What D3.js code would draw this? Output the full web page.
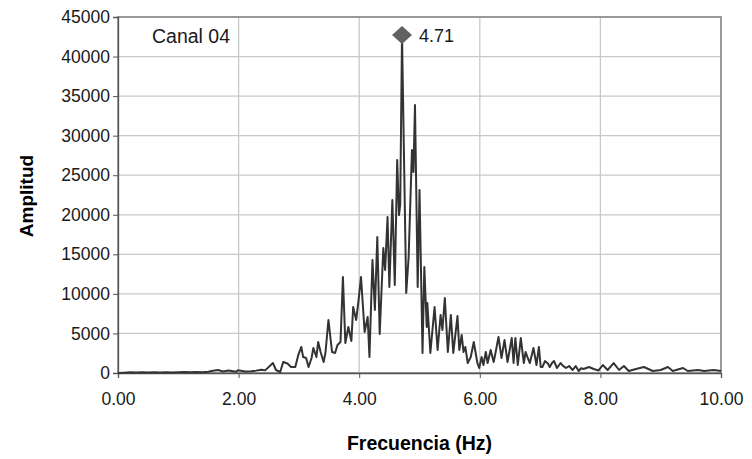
<!DOCTYPE html>
<html>
<head>
<meta charset="utf-8">
<script src="https://cdn.jsdelivr.net/npm/d3@7"></script>
<style>
  body { margin: 0; background: #fff; }
  svg text { font-family: "Liberation Sans", Arial, sans-serif; }
</style>
</head>
<body>
<svg id="chart" width="752" height="459"></svg>
<script>
// frequency (Hz) and amplitude
const freq = [
  0.00, 0.10, 0.20, 0.30, 0.40, 0.50, 0.60, 0.70, 0.80, 0.90,
  1.00, 1.10, 1.20, 1.30, 1.40, 1.50, 1.55, 1.66, 1.74, 1.83,
  1.96, 1.99, 2.11, 2.21, 2.29, 2.38, 2.44, 2.57, 2.62, 2.69,
  2.74, 2.81, 2.87, 2.94, 2.99, 3.04, 3.07, 3.12, 3.16, 3.21,
  3.24, 3.29, 3.32, 3.36, 3.41, 3.44, 3.49, 3.55, 3.60, 3.64,
  3.69, 3.73, 3.77, 3.82, 3.87, 3.90, 3.95, 3.99, 4.03, 4.09,
  4.14, 4.17, 4.22, 4.26, 4.30, 4.34, 4.40, 4.43, 4.47, 4.50,
  4.55, 4.59, 4.63, 4.66, 4.68, 4.71, 4.78, 4.82, 4.875, 4.90,
  4.925, 4.97, 5.00, 5.05, 5.08, 5.12, 5.13, 5.18, 5.25, 5.30,
  5.35, 5.38, 5.42, 5.47, 5.52, 5.56, 5.63, 5.66, 5.70, 5.73,
  5.76, 5.80, 5.85, 5.90, 5.96, 5.99, 6.03, 6.06, 6.10, 6.13,
  6.18, 6.23, 6.26, 6.31, 6.36, 6.41, 6.46, 6.53, 6.56, 6.59,
  6.63, 6.68, 6.73, 6.76, 6.79, 6.83, 6.89, 6.94, 6.98, 7.01,
  7.04, 7.08, 7.13, 7.16, 7.20, 7.23, 7.28, 7.34, 7.38, 7.43,
  7.48, 7.54, 7.59, 7.64, 7.68, 7.72, 7.81, 7.89, 7.97, 8.04,
  8.12, 8.22, 8.31, 8.39, 8.47, 8.59, 8.72, 8.87, 9.00, 9.12,
  9.20, 9.37, 9.45, 9.62, 9.72, 9.88, 10.00
];
const amplitude = [
  0, 40, 80, 50, 90, 60, 100, 70, 110, 60,
  90, 120, 80, 130, 100, 160, 260, 380, 200, 320,
  150, 350, 200, 220, 300, 420, 330, 1260, 380, 130,
  1390, 1200, 760, 760, 2280, 3290, 2020, 1900, 760, 1900,
  3160, 2020, 3920, 2650, 1390, 2530, 6700, 2650, 2530, 3540,
  3920, 12130, 3790, 5810, 4040, 8340, 6700, 9230, 12130, 5180,
  7080, 2020, 14280, 7960, 17190, 4930, 15800, 13020, 19720, 10870,
  21870, 11120, 26920, 19970, 21240, 42600, 10110, 14660, 28190, 25400,
  33880, 10870, 23130, 2530, 13400, 5810, 8850, 2530, 8340, 2910,
  7330, 5440, 9480, 2650, 7330, 2530, 7200, 2910, 4800, 2650,
  3290, 1260, 2020, 3920, 1260, 630, 2020, 1010, 2650, 1260,
  2910, 1390, 2530, 4550, 1900, 4170, 1390, 4420, 1260, 4420,
  1010, 4420, 1260, 2650, 2020, 1260, 3160, 1010, 3290, 760,
  760, 1500, 1200, 760, 1300, 1520, 630, 1260, 900, 630,
  880, 380, 880, 250, 600, 500, 760, 500, 320, 1010,
  380, 1260, 380, 880, 250, 500, 760, 250, 380, 760,
  250, 630, 250, 380, 250, 380, 250
];
const xTicks = [0, 2, 4, 6, 8, 10];
const yTicks = [0, 5000, 10000, 15000, 20000, 25000, 30000, 35000, 40000, 45000];
const peakFreq = 4.71;
const peakAmp = 42600;
const channelName = "Canal 04";

const svg = d3.select('#chart');
const m = { left: 118, right: 31, top: 17, bottom: 86 };
const W = 752, H = 459;

const x = d3.scaleLinear().domain([0, 10]).range([m.left, W - m.right]);
const y = d3.scaleLinear().domain([0, 45000]).range([H - m.bottom, m.top]);

// grid
svg.append('g').selectAll('line.gy')
  .data(yTicks.slice(1)).enter().append('line')
    .attr('x1', x(0)).attr('x2', x(10))
    .attr('y1', d => y(d)).attr('y2', d => y(d))
    .attr('stroke', '#c8c8c8').attr('stroke-width', 1.3);
svg.append('g').selectAll('line.gx')
  .data(xTicks.slice(1)).enter().append('line')
    .attr('x1', d => x(d)).attr('x2', d => x(d))
    .attr('y1', y(0)).attr('y2', y(45000))
    .attr('stroke', '#c8c8c8').attr('stroke-width', 1.3);

// plot frame
svg.append('rect')
  .attr('x', x(0)).attr('y', y(45000))
  .attr('width', x(10) - x(0)).attr('height', y(0) - y(45000))
  .attr('fill', 'none').attr('stroke', '#8a8a8a').attr('stroke-width', 1.6);

// axes
const xAxis = svg.append('g')
  .attr('transform', `translate(0,${y(0)})`)
  .call(d3.axisBottom(x).tickValues(xTicks).tickFormat(d3.format('.2f')).tickSize(5).tickPadding(15));
const yAxis = svg.append('g')
  .attr('transform', `translate(${x(0)},0)`)
  .call(d3.axisLeft(y).tickValues(yTicks).tickFormat(d => d).tickSize(5).tickPadding(3));
[xAxis, yAxis].forEach(a => {
  a.select('.domain').attr('stroke', '#555').attr('stroke-width', 1.3);
  a.selectAll('.tick line').attr('stroke', '#555');
  a.selectAll('.tick text').attr('fill', '#1a1a1a').style('font-size', '17.5px')
    .style('font-family', '"Liberation Sans", Arial, sans-serif');
});

// spectrum line
const pts = freq.map((f, i) => [f, amplitude[i]]);
svg.append('path')
  .datum(pts)
  .attr('fill', 'none')
  .attr('stroke', '#333')
  .attr('stroke-width', 2)
  .attr('stroke-linejoin', 'round')
  .attr('d', d3.line().x(d => x(d[0])).y(d => y(d[1])));

// peak marker (diamond)
svg.append('path')
  .attr('d', 'M0,-9L10,0L0,9L-10,0Z')
  .attr('transform', `translate(${x(peakFreq)},${y(peakAmp) - 1})`)
  .attr('fill', '#616161');
svg.append('text')
  .attr('x', x(peakFreq) + 17).attr('y', y(peakAmp) + 6)
  .attr('font-size', 18).attr('fill', '#1a1a1a')
  .text(peakFreq.toFixed(2));

svg.append('text')
  .attr('x', 152).attr('y', 43)
  .attr('font-size', 19.5).attr('fill', '#1a1a1a')
  .text(channelName);

// axis titles
svg.append('text')
  .attr('x', (x(0) + x(10)) / 2).attr('y', 450)
  .attr('text-anchor', 'middle')
  .attr('font-size', 19.5).attr('font-weight', 'bold')
  .text('Frecuencia (Hz)');
svg.append('text')
  .attr('transform', 'translate(33,196) rotate(-90)')
  .attr('text-anchor', 'middle')
  .attr('font-size', 19).attr('font-weight', 'bold')
  .text('Amplitud');
</script>
</body>
</html>
